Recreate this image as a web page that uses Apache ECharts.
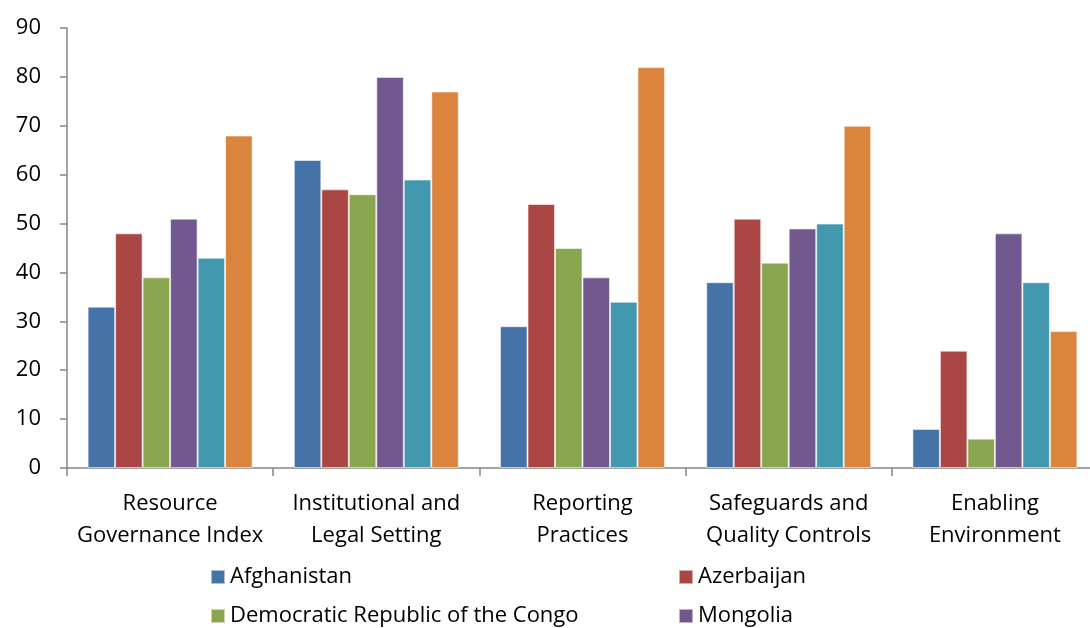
<!DOCTYPE html>
<html>
<head>
<meta charset="utf-8">
<script src="https://cdn.jsdelivr.net/npm/echarts@6/dist/echarts.min.js"></script>
<style>
  html, body { margin: 0; padding: 0; background: #fff; }
  #main { width: 1090px; height: 628px; }
</style>
</head>
<body>
<div id="main"></div>
<script>
// categories (x axis)
var categories = [
  "Resource\nGovernance Index",
  "Institutional and\nLegal Setting",
  "Reporting\nPractices",
  "Safeguards and\nQuality Controls",
  "Enabling\nEnvironment"
]
// series names, in legend order
var countries = [
  "Afghanistan",
  "Azerbaijan",
  "Democratic Republic of the Congo",
  "Mongolia",
  "Kazakhstan",
  "Ghana"
]
// values per country
var afghanistan = [33, 63, 29, 38, 8]
var azerbaijan = [48, 57, 54, 51, 24]
var drc = [39, 56, 45, 42, 6]
var mongolia = [51, 80, 39, 49, 48]
var kazakhstan = [43, 59, 34, 50, 38]
var ghana = [68, 77, 82, 70, 28]
var values = [afghanistan, azerbaijan, drc, mongolia, kazakhstan, ghana]

var colors = ["#4572A7", "#AA4643", "#89A54E", "#71588F", "#4198AF", "#DB843D"]
var font = "'Open Sans', 'Liberation Sans', sans-serif"

var chartDom = document.getElementById("main")
var myChart = echarts.init(chartDom)

// one legend per item so it sits in two fixed columns like the original
var legendPos = [
  [210, 566], [678, 566],
  [210, 605], [678, 605],
  [210, 644], [678, 644]
]
var legends = countries.map(function (name, i) {
  return {
    data: [name],
    left: legendPos[i][0],
    top: legendPos[i][1],
    icon: "rect",
    itemWidth: 14,
    itemHeight: 14,
    itemGap: 8,
    padding: 0,
    selectedMode: false,
    textStyle: { fontFamily: font, fontSize: 22, color: "#000" }
  }
})

var series = countries.map(function (name, i) {
  return {
    name: name,
    type: "bar",
    data: values[i],
    barGap: "0%",
    barCategoryGap: "20%",
    itemStyle: {
      color: colors[i],
      borderColor: "rgba(255,255,255,0.55)",
      borderWidth: 1
    }
  }
})

var option = {
  animation: false,
  color: colors,
  legend: legends,
  grid: {
    left: 67,
    top: 28,
    width: 1031,
    bottom: 160,
    outerBoundsMode: "none"
  },
  xAxis: {
    type: "category",
    data: categories,
    axisLine: { lineStyle: { color: "#868686", width: 1.5 } },
    axisTick: { show: true, length: 8, lineStyle: { color: "#868686", width: 1.5 } },
    axisLabel: {
      interval: 0,
      margin: 20,
      fontFamily: font,
      fontSize: 22,
      lineHeight: 32,
      color: "#000"
    }
  },
  yAxis: {
    type: "value",
    min: 0,
    max: 90,
    interval: 10,
    splitLine: { show: false },
    axisLine: { show: true, lineStyle: { color: "#868686", width: 1.5 } },
    axisTick: { show: true, length: 7, lineStyle: { color: "#868686", width: 1.5 } },
    axisLabel: {
      margin: 26,
      fontFamily: font,
      fontSize: 22,
      color: "#000"
    }
  },
  series: series
}

option && myChart.setOption(option)
</script>
</body>
</html>
